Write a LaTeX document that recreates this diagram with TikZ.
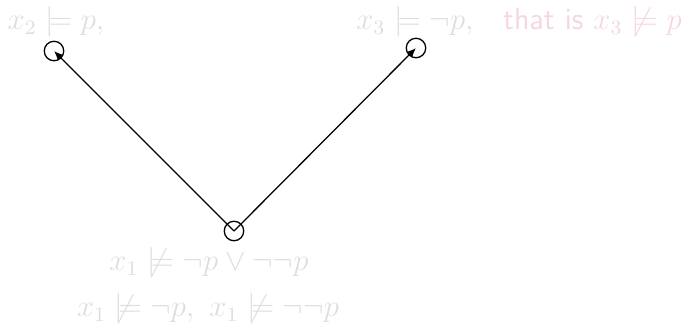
\documentclass[tikz,border=0pt]{standalone}
\usepackage{amsmath,amssymb}
\usepackage{xcolor}
\usetikzlibrary{arrows.meta, positioning}

\definecolor{labgray}{RGB}{222,222,222}
\definecolor{labpink}{RGB}{245,214,228}

\begin{document}
\begin{tikzpicture}[x=0.39pt, y=-0.39pt, line width=0.5pt, font=\large,
  world/.style={draw, circle, minimum size=7.6pt, inner sep=0pt},
  lab/.style={text=labgray, inner sep=1pt},
  acc/.style={-{Latex[length=3.4pt, width=2.8pt]}}]
  \useasboundingbox (0,0) rectangle (688,325);

  \node[world] (w1) at (234,231) {};
  \node[world] (w2) at (54,51) {};
  \node[world] (w3) at (416,48) {};

  \draw[acc] (w1.center) -- (w2.center);
  \draw[acc] (w1.center) -- (w3.center);

  \node[lab] (l2) at (56,22) {$x_2 \models p,$};
  \node[lab] (l3) at (415,22) {$x_3 \models \neg p,$};
  \node[lab, text=labpink, right=9pt of l3, font=\large\sffamily]
    (l3b) {that is $x_3 \not\models p$};
  \node[lab] (l1) at (209,263) {$x_1 \not\models \neg p \vee \neg\neg p$};
  \node[lab] (l1b) at (208,309)
    {$x_1 \not\models \neg p,\ x_1 \not\models \neg\neg p$};
\end{tikzpicture}
\end{document}
